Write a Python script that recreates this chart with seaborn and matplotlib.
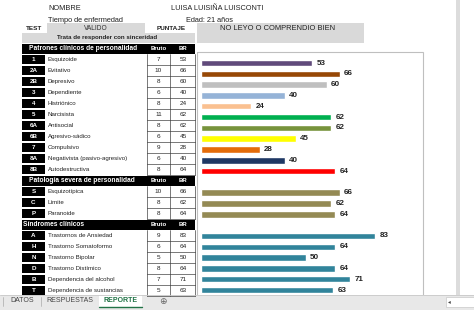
import numpy as np
import pandas as pd
import matplotlib
matplotlib.use("Agg")
import matplotlib.pyplot as plt
from matplotlib.patches import Rectangle
import seaborn as sns

# --- data ---
pers_codes = ["1", "2A", "2B", "3", "4", "5", "6A", "6B", "7", "8A", "8B"]
pers_names = ["Esquizoide", "Evitativo", "Depresivo", "Dependiente", "Histriónico",
              "Narcisista", "Antisocial", "Agresivo-sádico", "Compulsivo",
              "Negativista (pasivo-agresivo)", "Autodestructiva"]
pers_bruto = [7, 10, 8, 6, 8, 11, 8, 6, 9, 6, 8]
pers_br = [53, 66, 60, 40, 24, 62, 62, 45, 28, 40, 64]
pers_colors = ["#604A7B", "#974806", "#BFBFBF", "#95B3D7", "#FAC090", "#00B050",
               "#77933C", "#FFFF00", "#E46C0A", "#1F3864", "#FF0000"]

sev_codes = ["S", "C", "P"]
sev_names = ["Esquizotípica", "Límite", "Paranoide"]
sev_bruto = [10, 8, 8]
sev_br = [66, 62, 64]
sev_color = "#948A54"

sin_codes = ["A", "H", "N", "D", "B", "T"]
sin_names = ["Trastornos de Ansiedad", "Trastorno Somatoformo", "Trastorno Bipolar",
             "Trastorno Distímico", "Dependencia del alcohol", "Dependencia de sustancias"]
sin_bruto = [9, 6, 5, 8, 7, 5]
sin_br = [83, 64, 50, 64, 71, 63]
sin_color = "#31849B"

sections = [
    ("Patrones clínicos de personalidad", pers_codes, pers_names, pers_bruto, pers_br),
    ("Patología severa de personalidad", sev_codes, sev_names, sev_bruto, sev_br),
    ("Síndromes clínicos", sin_codes, sin_names, sin_bruto, sin_br),
]

palette = dict(zip(pers_codes, pers_colors))
palette.update({c: sev_color for c in sev_codes})
palette.update({c: sin_color for c in sin_codes})

df = pd.DataFrame({
    "code": pers_codes + sev_codes + sin_codes,
    "br": pers_br + sev_br + sin_br,
})
order = ["_h1"] + pers_codes + ["_h2"] + sev_codes + ["_h3"] + sin_codes

sns.set_style("white")
plt.rcParams["font.family"] = ["Liberation Sans", "DejaVu Sans"]

W, H = 474, 310
fig = plt.figure(figsize=(W / 100, H / 100), dpi=100)
bg = fig.add_axes([0, 0, 1, 1])
bg.set_xlim(0, W)
bg.set_ylim(H, 0)
bg.axis("off")

GRAY = "#D9D9D9"

# header block
bg.text(48, 9, "NOMBRE", fontsize=5.3, va="center", color="#222222")
bg.text(171, 9, "LUISA LUISIÑA LUISCONTI", fontsize=5.3, va="center", color="#222222")
bg.text(48, 20, "Tiempo de enfermedad", fontsize=5.3, va="center", color="#222222")
bg.text(186, 20, "Edad: 21 años", fontsize=5.3, va="center", color="#222222")
bg.add_patch(Rectangle((47, 23), 98, 9.5, color=GRAY, lw=0))
bg.add_patch(Rectangle((22, 33), 173, 9.5, color=GRAY, lw=0))
bg.add_patch(Rectangle((197, 23), 167, 20, color=GRAY, lw=0))
bg.text(34.5, 28, "TEST", fontsize=4.6, fontweight="bold", ha="center", va="center", color="#222222")
bg.text(96, 28, "VALIDO", fontsize=4.8, ha="center", va="center", color="#333333")
bg.text(171, 28, "PUNTAJE", fontsize=4.6, fontweight="bold", ha="center", va="center", color="#222222")
bg.text(107, 38, "Trata de responder con sinceridad", fontsize=4.4, fontweight="bold",
        ha="center", va="center", color="#222222")
bg.text(220, 29, "NO LEYO O COMPRENDIO BIEN", fontsize=5.4, va="center", color="#222222")

# chart frame and right column
bg.add_patch(Rectangle((197, 52), 226, 260, fill=False, ec="#BFBFBF", lw=0.8))
bg.add_patch(Rectangle((456, 0), 4, 296, color="#DCDCDC", lw=0))

# table
row_h = 11.0
y = 48.5
line_kw = dict(color="#444444", lw=0.5)
for title, codes, names, bruto, br in sections:
    bg.add_patch(Rectangle((22, y - 5), 173, 10, color="black", lw=0))
    tx = 23 if title.startswith("Sín") else 29
    bg.text(tx, y, title, fontsize=4.8, fontweight="bold", color="white", va="center")
    bg.text(158.5, y, "Bruto", fontsize=4.3, fontweight="bold", color="white", ha="center", va="center")
    bg.text(183, y, "BR", fontsize=4.3, fontweight="bold", color="white", ha="center", va="center")
    for c, n, b, r in zip(codes, names, bruto, br):
        y += row_h
        bg.add_patch(Rectangle((22, y - 4.5), 23, 9, color="black", lw=0))
        bg.text(33.5, y, c, fontsize=4.5, fontweight="bold", color="white", ha="center", va="center")
        bg.text(48, y, n, fontsize=4.4, color="#222222", va="center")
        bg.text(158.5, y, str(b), fontsize=4.6, color="#222222", ha="center", va="center")
        bg.text(183, y, str(r), fontsize=4.6, color="#222222", ha="center", va="center")
        bg.plot([147, 195], [y + row_h / 2, y + row_h / 2], **line_kw)
        for xv in (147, 170, 195):
            bg.plot([xv, xv], [y - row_h / 2, y + row_h / 2], **line_kw)
    y += row_h

# sheet tabs
bg.add_patch(Rectangle((0, 295), W, 15, color="#E8E8E8", lw=0))
bg.plot([0, W], [295, 295], color="#C8C8C8", lw=0.6)
bg.add_patch(Rectangle((99, 295), 43, 12, color="white", lw=0))
bg.plot([99, 142], [306.5, 306.5], color="#217346", lw=1.0)
bg.text(22, 301, "DATOS", fontsize=5.0, color="#444444", ha="center", va="center")
bg.text(70, 301, "RESPUESTAS", fontsize=5.0, color="#444444", ha="center", va="center")
bg.text(120.5, 301, "REPORTE", fontsize=5.0, fontweight="bold", color="#217346", ha="center", va="center")
bg.text(163, 301.5, "⊕", fontsize=6.5, color="#666666", ha="center", va="center", family="DejaVu Sans")
for xv in (3, 41):
    bg.plot([xv, xv], [297, 306], color="#AAAAAA", lw=0.5)
bg.add_patch(Rectangle((446, 297), 28, 10, fc="white", ec="#C8C8C8", lw=0.5))
bg.text(449, 302, "◂", fontsize=4, color="#444444", ha="center", va="center", family="DejaVu Sans")

# bar chart
top_px, step = 52.2 - 10.81 / 2, 10.81
bot_px = top_px + step * len(order)
ax = fig.add_axes([201 / W, 1 - bot_px / H, 219 / W, (bot_px - top_px) / H])
sns.barplot(data=df, x="br", y="code", hue="code", order=order, palette=palette,
            legend=False, width=0.6, saturation=1, ax=ax)
ax.set_xlim(0, 219 / 2.1)
for cont in ax.containers:
    ax.bar_label(cont, padding=3, fontsize=5.8, fontweight="bold", color="#222222")
ax.axis("off")
ax.patch.set_alpha(0)

fig.savefig("out.png", dpi=100)
